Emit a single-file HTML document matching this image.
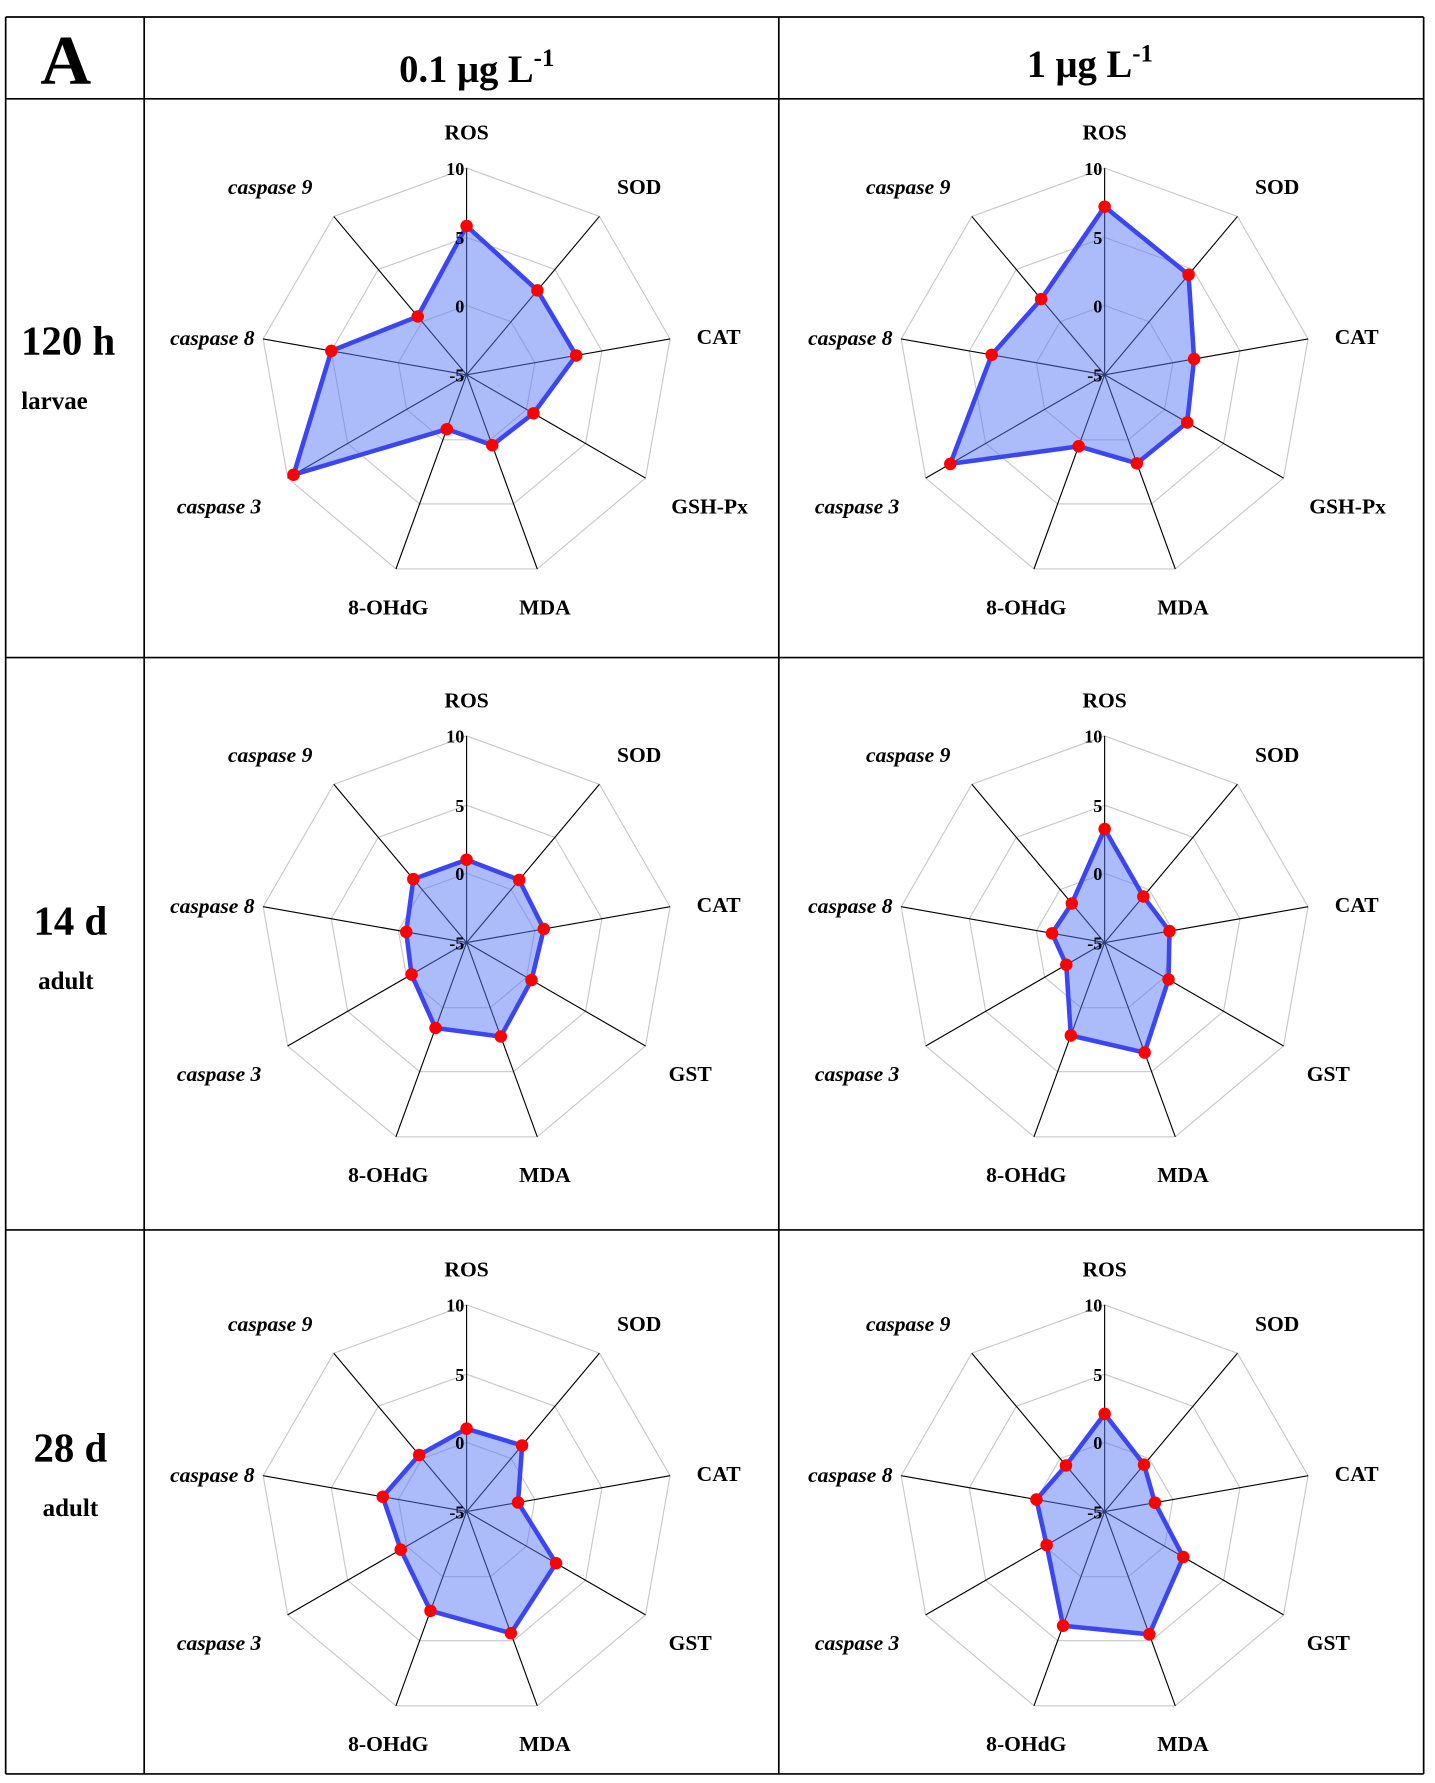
<!DOCTYPE html>
<html><head><meta charset="utf-8"><style>
html,body{margin:0;padding:0;background:#fff}
svg{display:block}
text{font-family:"Liberation Serif",serif;font-weight:bold;fill:#000}
</style></head><body>
<svg id="s" width="1435" height="1783" viewBox="0 0 1264 1570" preserveAspectRatio="none" xmlns="http://www.w3.org/2000/svg">
<rect x="0" y="0" width="1264" height="1570" fill="#fff"/>
<g stroke="#000" stroke-width="1.5" fill="none">
<line x1="5" y1="15" x2="1254" y2="15"/>
<line x1="5" y1="87" x2="1254" y2="87"/>
<line x1="5" y1="579" x2="1254" y2="579"/>
<line x1="5" y1="1083" x2="1254" y2="1083"/>
<line x1="5" y1="1562" x2="1254" y2="1562"/>
<line x1="5" y1="15" x2="5" y2="1562"/>
<line x1="127" y1="15" x2="127" y2="1562"/>
<line x1="686" y1="15" x2="686" y2="1562"/>
<line x1="1254" y1="15" x2="1254" y2="1562"/>
</g>
<text x="58" y="74" font-size="62" text-anchor="middle">A</text>
<text x="420" y="72" font-size="34" text-anchor="middle">0.1 μg L<tspan dy="-14" font-size="22">-1</tspan></text>
<text x="960" y="68" font-size="34" text-anchor="middle">1 μg L<tspan dy="-14" font-size="22">-1</tspan></text>
<text x="60" y="312" font-size="36" text-anchor="middle">120 h</text>
<text x="48" y="360" font-size="22" text-anchor="middle">larvae</text>
<text x="62" y="823" font-size="36" text-anchor="middle">14 d</text>
<text x="58" y="871" font-size="22" text-anchor="middle">adult</text>
<text x="62" y="1287" font-size="36" text-anchor="middle">28 d</text>
<text x="62" y="1335" font-size="22" text-anchor="middle">adult</text>
<g id="charts"></g>
</svg>
<script>
var NS="http://www.w3.org/2000/svg";
var G=document.getElementById("charts");
function el(t,a,txt){var e=document.createElementNS(NS,t);for(var k in a)e.setAttribute(k,a[k]);if(txt!=null)e.textContent=txt;G.appendChild(e);return e;}
var charts=[
 [411,330,[131,97,98,68,66,51,176,121,67],"GSH-Px"],
 [973,330,[148,115,80,84,83,67,157,101,87],"GSH-Px"],
 [411,830,[73,72,69,66,88,80,56,54,73],"GST"],
 [973,830,[100,53,58,65,103,87,39,47,45],"GST"],
 [411,1331,[73,76,46,91,114,93,67,75,65],"GST"],
 [973,1331,[86,54,45,80,115,107,59,61,53],"GST"]
];
var R=182;
function pt(cx,cy,i,r){var a=i*40*Math.PI/180;return [cx+r*Math.sin(a),cy-r*Math.cos(a)];}
charts.forEach(function(c){
 var cx=c[0],cy=c[1];
 [61,121,182].forEach(function(r){
  var p=[];for(var i=0;i<9;i++){var q=pt(cx,cy,i,r);p.push(q[0].toFixed(1)+","+q[1].toFixed(1));}
  el("polygon",{points:p.join(" "),fill:"none",stroke:"#c8c8c8","stroke-width":1});
 });
 for(var i=0;i<9;i++){var q=pt(cx,cy,i,R);el("line",{x1:cx,y1:cy,x2:q[0],y2:q[1],stroke:"#000","stroke-width":1});}
 var p=[];for(var i=0;i<9;i++){var q=pt(cx,cy,i,c[2][i]);p.push(q[0].toFixed(1)+","+q[1].toFixed(1));}
 el("polygon",{points:p.join(" "),fill:"rgba(90,120,245,0.5)",stroke:"#3c46f0","stroke-width":4,"stroke-linejoin":"round"});
 for(var i=0;i<9;i++){var q=pt(cx,cy,i,c[2][i]);el("circle",{cx:q[0],cy:q[1],r:5.5,fill:"#f00"});}
 [["10",182],["5",121],["0",61],["-5",0]].forEach(function(t){
  el("text",{x:cx-2,y:cy-t[1]+6,"font-size":16,"text-anchor":"end",fill:"#222"},t[0]);
 });
 var labs=[["ROS",0,-214,"middle",0],["SOD",152,-166,"middle",0],["CAT",222,-34,"middle",0],[c[3],c[3]=="GST"?197:214,115,"middle",0],
  ["MDA",69,204,"middle",0],["8-OHdG",-69,204,"middle",0],["caspase 3",-218,115,"middle",1],["caspase 8",-224,-33,"middle",1],["caspase 9",-173,-166,"middle",1]];
 labs.forEach(function(l){
  var a={x:cx+l[1],y:cy+l[2]+7,"font-size":19,"text-anchor":l[3]};
  if(l[4])a["font-style"]="italic";
  el("text",a,l[0]);
 });
});
</script>
</body></html>
